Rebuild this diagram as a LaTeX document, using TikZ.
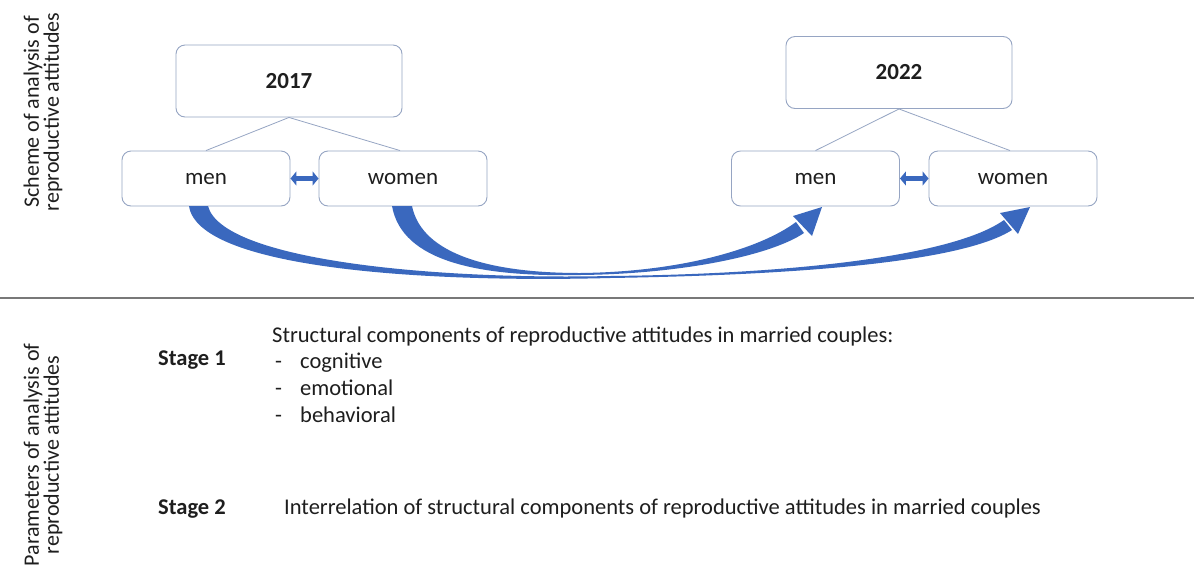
\documentclass[tikz,border=0pt]{standalone}
\usepackage{fontspec}
\setmainfont{Carlito}
\usetikzlibrary{arrows.meta}
\definecolor{boxline}{RGB}{150,165,195}
\definecolor{arrblue}{RGB}{58,104,190}
\definecolor{divider}{RGB}{120,120,120}
\definecolor{txt}{RGB}{30,30,30}
\begin{document}
\begin{tikzpicture}[x=1pt,y=-1pt,
  box/.style={draw=boxline,line width=0.9pt,rounded corners=9pt,fill=white,inner sep=0pt,font=\fontsize{23}{26}\selectfont,text=txt},
  yearbox/.style={box,minimum width=226pt,minimum height=72pt,font=\bfseries\fontsize{23}{26}\selectfont},
  pbox/.style={box,minimum width=168pt,minimum height=55pt},
  tie/.style={draw=boxline,line width=0.8pt},
  dbl/.style={draw=arrblue,line width=5pt,{Triangle[length=6pt,width=14pt]}-{Triangle[length=6pt,width=14pt]}},
  side/.style={rotate=90,align=center,font=\fontsize{22}{20}\selectfont,text=txt},
  body/.style={anchor=base west,font=\fontsize{22.5}{26}\selectfont,text=txt,inner sep=0pt},
  stage/.style={anchor=base west,font=\bfseries\fontsize{22.5}{26}\selectfont,text=txt,inner sep=0pt}]
\useasboundingbox (0,0) rectangle (1194,574);
\fill[white] (0,0) rectangle (1194,574);

% boxes
\node[yearbox] (y17) at (289,81) {2017};
\node[pbox] (m17) at (206,178.5) {men};
\node[pbox] (w17) at (403,178.5) {women};
\node[yearbox] (y22) at (899,72.5) {2022};
\node[pbox] (m22) at (815.5,178.5) {men};
\node[pbox] (w22) at (1013,178.5) {women};

% tree lines
\coordinate (b17) at (y17.south);
\coordinate (b22) at (y22.south);
\draw[tie] (b17) -- (m17.north);
\draw[tie] (b17) -- ([xshift=-3pt]w17.north);
\draw[tie] (b22) -- (m22.north);
\draw[tie] (b22) -- ([xshift=-3pt]w22.north);

% small double arrows
\draw[dbl] (m17.east) -- (w17.west);
\draw[dbl] (m22.east) -- (w22.west);

% big curved arrows
\coordinate (t1) at (1030,207);
\coordinate (t2) at (822,207);
\fill[arrblue] (189,206) .. controls (198,268) and (420,283) .. (610,278)
   .. controls (800,275) and (962,262) .. (1012,230)
   -- (1004,220) .. controls (955,255) and (800,274) .. (610,276)
   .. controls (432,280) and (222,260) .. (208,206) -- cycle;
\fill[arrblue] (t1) -- (1018,234) -- (1000,213) -- cycle;
\fill[arrblue] (392,206) .. controls (402,262) and (480,277) .. (580,275)
   .. controls (680,274) and (770,256) .. (804,233)
   -- (796,222) .. controls (760,249) and (680,272) .. (580,273)
   .. controls (492,273) and (422,255) .. (412,206) -- cycle;
\fill[arrblue] (t2) -- (812,236) -- (793,216) -- cycle;

% divider
\draw[divider,line width=1.3pt] (0,298) -- (1194,298);

% side labels
\node[side] (sideA) at (43,112) {Scheme of analysis of\\reproductive attitudes};
\node[side] (sideB) at (43,455) {Parameters of analysis of\\reproductive attitudes};

% stages
\node[stage] (st1) at (158,365) {Stage 1};
\node[stage] (st2) at (158,514) {Stage 2};
\node[body] (h1) at (272,342) {Structural components of reproductive attitudes in married couples:};
\node[body] (l1) at (275,368) {-};
\node[body] (l2) at (275,395) {-};
\node[body] (l3) at (275,422) {-};
\node[body] (c1) at (300,368) {cognitive};
\node[body] (c2) at (300,395) {emotional};
\node[body] (c3) at (300,422) {behavioral};
\node[body] (h2) at (284,514) {Interrelation of structural components of reproductive attitudes in married couples};
\end{tikzpicture}
\end{document}
